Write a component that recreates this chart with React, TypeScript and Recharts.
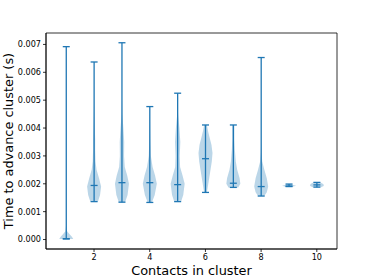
import React from 'react';
import { ComposedChart, Bar, XAxis, YAxis, ReferenceArea } from 'recharts';

const contacts = [1, 2, 3, 4, 5, 6, 7, 8, 9, 10];
const minTimes = [0.00002, 0.00136, 0.00134, 0.00133, 0.00136, 0.00169, 0.00187, 0.00156, 0.0019, 0.00188];
const maxTimes = [0.00692, 0.00637, 0.00706, 0.00477, 0.00525, 0.00411, 0.00411, 0.00653, 0.00199, 0.00205];
const medianTimes = [0.00003, 0.00194, 0.00204, 0.00204, 0.00197, 0.0029, 0.00202, 0.0019, 0.00192, 0.00196];

// [time, relative density]
const densityProfiles: [number, number][][] = [
  [[0.00002, 1.0], [0.0001, 0.8], [0.0002, 0.45], [0.0003, 0.12], [0.0005, 0.03], [0.0015, 0.01], [0.00692, 0.0]],
  [[0.00136, 0.55], [0.0016, 0.85], [0.0019, 1.0], [0.0022, 0.7], [0.0025, 0.35], [0.0028, 0.2], [0.0032, 0.15], [0.0036, 0.15], [0.004, 0.1], [0.0045, 0.04], [0.005, 0.01], [0.00637, 0.0]],
  [[0.00134, 0.45], [0.0016, 0.8], [0.002, 1.0], [0.0023, 0.75], [0.0026, 0.4], [0.003, 0.3], [0.0035, 0.32], [0.004, 0.2], [0.0045, 0.05], [0.005, 0.01], [0.00706, 0.0]],
  [[0.00133, 0.3], [0.0016, 0.7], [0.002, 1.0], [0.0023, 0.75], [0.0026, 0.4], [0.003, 0.15], [0.0035, 0.08], [0.004, 0.04], [0.00477, 0.0]],
  [[0.00136, 0.5], [0.0016, 0.8], [0.002, 1.0], [0.0023, 0.7], [0.0026, 0.35], [0.003, 0.3], [0.0035, 0.38], [0.004, 0.25], [0.0045, 0.06], [0.005, 0.01], [0.00525, 0.0]],
  [[0.00169, 0.2], [0.002, 0.4], [0.0024, 0.65], [0.0028, 0.9], [0.0031, 1.0], [0.0034, 0.85], [0.0037, 0.55], [0.0039, 0.35], [0.00411, 0.2]],
  [[0.00187, 0.7], [0.002, 1.0], [0.0022, 0.9], [0.0025, 0.55], [0.0028, 0.35], [0.0032, 0.22], [0.0036, 0.15], [0.004, 0.15], [0.00411, 0.15]],
  [[0.00156, 0.45], [0.0017, 0.8], [0.0019, 1.0], [0.0022, 0.8], [0.0025, 0.45], [0.0028, 0.15], [0.0031, 0.05], [0.0035, 0.01], [0.00653, 0.0]],
  [[0.0019, 0.6], [0.00193, 1.0], [0.00196, 0.6], [0.00199, 0.2]],
  [[0.00188, 0.6], [0.00192, 0.95], [0.00196, 1.0], [0.002, 0.85], [0.00205, 0.5]],
];

const xTicks = [2, 4, 6, 8, 10];
const yTicks = [0, 0.001, 0.002, 0.003, 0.004, 0.005, 0.006, 0.007];
const xDomain = [0.275, 10.725];
const yDomain = [-0.00034, 0.00741];

const data = contacts.map((c, i) => ({
  contacts: c,
  range: [minTimes[i], maxTimes[i]],
  median: medianTimes[i],
  profile: densityProfiles[i],
}));

const BLUE = '#1f77b4';

const Violin = (props: any) => {
  const { x, y, width, height, payload } = props;
  const [lo, hi] = payload.range;
  const cx = x + width / 2;
  const half = width / 2;
  const toPx = (v: number) => y + (height * (hi - v)) / (hi - lo);
  const prof: [number, number][] = payload.profile;
  const right = prof.map(([v, w]) => `${cx + w * half},${toPx(v)}`);
  const left = prof.slice().reverse().map(([v, w]) => `${cx - w * half},${toPx(v)}`);
  const cap = width / 4;
  const yMed = toPx(payload.median);
  return (
    <g>
      <polygon points={[...right, ...left].join(' ')} fill={BLUE} fillOpacity={0.3} stroke="none" />
      <line x1={cx} x2={cx} y1={toPx(hi)} y2={toPx(lo)} stroke={BLUE} strokeWidth={1.3} />
      <line x1={cx - cap} x2={cx + cap} y1={toPx(hi)} y2={toPx(hi)} stroke={BLUE} strokeWidth={1.3} />
      <line x1={cx - cap} x2={cx + cap} y1={toPx(lo)} y2={toPx(lo)} stroke={BLUE} strokeWidth={1.3} />
      <line x1={cx - cap} x2={cx + cap} y1={yMed} y2={yMed} stroke={BLUE} strokeWidth={1.3} />
    </g>
  );
};

const tickStyle = { fill: '#000', fontSize: 8.1, fontFamily: 'DejaVu Sans' };

export default function App() {
  return (
    <div style={{ position: 'absolute', left: 0, top: 0, width: 374, height: 280, background: '#fff' }}>
      <ComposedChart
        width={374}
        height={280}
        data={data}
        margin={{ top: 33, right: 37, left: 0, bottom: 0 }}
        style={{ fontFamily: 'DejaVu Sans' }}
      >
        <XAxis
          dataKey="contacts"
          type="number"
          domain={xDomain}
          ticks={xTicks}
          interval={0}
          height={31}
          tickSize={3}
          tickMargin={2}
          tick={tickStyle}
          stroke="#000"
          strokeWidth={0.8}
          label={{
            content: ({ viewBox }: any) => (
              <text
                x={viewBox.x + viewBox.width / 2}
                y={viewBox.y + viewBox.height - 5.5}
                textAnchor="middle"
                fontSize={12.9}
                fontFamily="DejaVu Sans"
                fill="#000"
              >
                Contacts in cluster
              </text>
            ),
          }}
        />
        <YAxis
          type="number"
          domain={yDomain}
          ticks={yTicks}
          interval={0}
          width={46}
          tickSize={3}
          tickMargin={2}
          tick={tickStyle}
          tickFormatter={(v: number) => v.toFixed(3)}
          stroke="#000"
          strokeWidth={0.8}
          label={{
            content: ({ viewBox }: any) => {
              const lx = 8;
              const ly = viewBox.y + viewBox.height / 2;
              return (
                <text
                  x={lx}
                  y={ly}
                  transform={`rotate(-90, ${lx}, ${ly})`}
                  textAnchor="middle"
                  dominantBaseline="central"
                  fontSize={12.9}
                  fontFamily="DejaVu Sans"
                  fill="#000"
                >
                  Time to advance cluster (s)
                </text>
              );
            },
          }}
        />
        <ReferenceArea
          x1={xDomain[0]}
          x2={xDomain[1]}
          y1={yDomain[0]}
          y2={yDomain[1]}
          fill="none"
          stroke="#000"
          strokeWidth={0.8}
          ifOverflow="visible"
        />
        <Bar dataKey="range" barSize={14} shape={<Violin />} isAnimationActive={false} />
      </ComposedChart>
    </div>
  );
}
